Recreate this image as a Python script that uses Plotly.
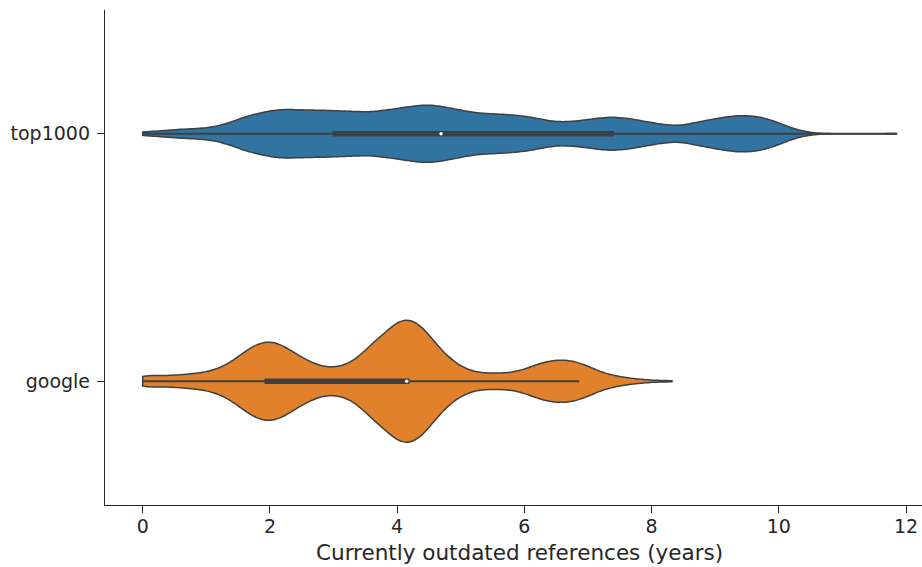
import numpy as np
import plotly.graph_objects as go

# ---- data ----
categories = ["top1000", "google"]
category_positions = [1, 0]

# sample values (years) and how many times each occurs
top1000_values = [0.0, 0.2, 0.4, 0.6, 0.8, 1.0, 1.2, 1.4, 1.6, 1.8,
                  2.0, 2.2, 2.4, 2.6, 2.8, 3.0, 3.2, 3.4, 3.6, 3.8,
                  4.0, 4.2, 4.4, 4.6, 4.8, 5.0, 5.2, 5.4, 5.6, 5.8,
                  6.0, 6.2, 6.4, 6.6, 6.8, 7.0, 7.2, 7.4, 7.6, 7.8,
                  8.0, 8.2, 8.4, 8.6, 8.8, 9.0, 9.2, 9.4, 9.6, 9.8,
                  10.0, 10.2, 10.4, 10.6, 11.85]
top1000_counts = [4, 5, 7, 9, 10, 11, 16, 23, 34, 40,
                  46, 49, 48, 47, 47, 46, 45, 44, 43, 47,
                  50, 54, 58, 57, 52, 47, 42, 40, 39, 38,
                  35, 31, 25, 23, 25, 28, 32, 34, 31, 27,
                  22, 18, 15, 20, 25, 30, 34, 37, 36, 31,
                  22, 11, 4, 1, 1]

google_values = [0.0, 0.2, 0.4, 0.6, 0.8, 1.0, 1.2, 1.4, 1.6, 1.8,
                 2.0, 2.2, 2.4, 2.6, 2.8, 3.0, 3.2, 3.4, 3.6, 3.8,
                 4.0, 4.2, 4.4, 4.6, 4.8, 5.0, 5.2, 5.4, 5.6, 5.8,
                 6.0, 6.2, 6.4, 6.6, 6.8, 7.0, 7.2, 7.4, 7.6, 7.8,
                 8.0, 8.2, 8.32]
google_counts = [13, 11, 11, 13, 15, 18, 25, 38, 59, 75,
                 81, 72, 55, 40, 29, 26, 32, 47, 75, 94,
                 120, 126, 109, 75, 47, 29, 18, 16, 16, 17,
                 23, 34, 41, 43, 40, 30, 18, 11, 7, 4,
                 2, 1, 1]

# inner box statistics
box_q1 = [3.00, 1.93]
box_median = [4.69, 4.15]
box_q3 = [7.39, 4.18]
box_lowerfence = [0.0, 0.0]
box_upperfence = [11.85, 6.86]

x_ticks = [0, 2, 4, 6, 8, 10, 12]
x_label = "Currently outdated references (years)"

# ---- styling ----
fill_colors = ["#3274a1", "#e1812c"]
violin_widths = [0.231, 0.492]
edge = "#3f3f3f"
text_color = "#262626"
font_family = "DejaVu Sans"

samples = [np.repeat(top1000_values, top1000_counts),
           np.repeat(google_values, google_counts)]

fig = go.Figure()
for i, name in enumerate(categories):
    fig.add_trace(go.Violin(
        x=samples[i], y0=category_positions[i], orientation="h", name=name,
        spanmode="hard", bandwidth=0.15, scalemode="width",
        width=violin_widths[i], side="both", points=False,
        box_visible=False, meanline_visible=False,
        fillcolor=fill_colors[i], line=dict(color=edge, width=1.5),
        opacity=1, hoverinfo="skip", showlegend=False))

for i, name in enumerate(categories):
    fig.add_trace(go.Box(
        y=[category_positions[i]], orientation="h",
        q1=[box_q1[i]], median=[box_median[i]], q3=[box_q3[i]],
        lowerfence=[box_lowerfence[i]], upperfence=[box_upperfence[i]],
        width=0.015, whiskerwidth=0, fillcolor=edge,
        line=dict(color=edge, width=1.8), boxpoints=False,
        hoverinfo="skip", showlegend=False))

fig.add_trace(go.Scatter(
    x=box_median, y=category_positions, mode="markers",
    marker=dict(color="white", size=3.5, line=dict(width=0)),
    hoverinfo="skip", showlegend=False))

axis_common = dict(
    showline=True, linecolor=text_color, linewidth=1.3,
    ticks="outside", ticklen=7, tickwidth=1.3, tickcolor=text_color,
    showgrid=False, zeroline=False, automargin=False,
    tickfont=dict(family=font_family, size=19, color=text_color),
)

fig.update_layout(
    width=922, height=567,
    margin=dict(l=105, r=0, t=10, b=62),
    paper_bgcolor="white", plot_bgcolor="white",
    font=dict(family=font_family, color=text_color),
    xaxis=dict(range=[-0.5925, 12.25], tickvals=x_ticks,
               ticklabelstandoff=-3, **axis_common),
    yaxis=dict(range=[-0.5, 1.5], tickvals=category_positions,
               ticktext=categories, ticklabelstandoff=3, **axis_common),
    violinmode="overlay", boxmode="overlay",
    annotations=[dict(text=x_label, xref="x", x=5.925, yref="paper",
                      y=-0.066, yanchor="top", showarrow=False,
                      font=dict(family=font_family, size=21.5, color=text_color))],
)

fig.write_html("out.html", config={"displayModeBar": False},
               post_script="document.body.style.margin='0';")
